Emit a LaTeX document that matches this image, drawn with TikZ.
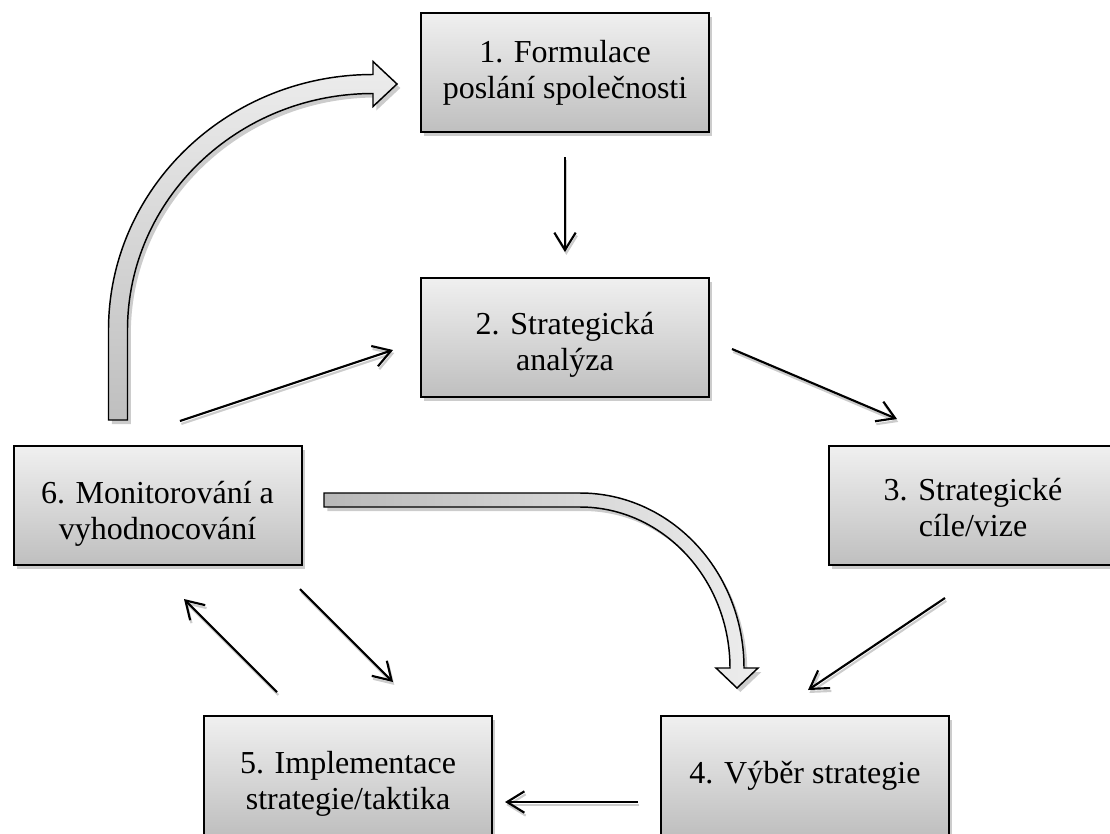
\documentclass[tikz,border=0pt]{standalone}
\usepackage{fontspec}
\setmainfont{Liberation Serif}
\usetikzlibrary{arrows.meta,shadows}
\definecolor{boxtop}{HTML}{F0F0F0}
\definecolor{boxbot}{HTML}{BFBFBF}
\definecolor{shadowgray}{HTML}{CCCCCC}
\definecolor{arrdark}{HTML}{B8B8B8}
\definecolor{arrlight}{HTML}{EDEDED}
\newcommand{\lift}[1]{\rule{0pt}{#1}}
\begin{document}
\begin{tikzpicture}[x=0.75pt,y=-0.75pt,
  box/.style={rectangle, draw=black, line width=1.5pt, top color=boxtop, bottom color=boxbot,
    minimum width=216pt, minimum height=89.25pt, inner sep=0pt, align=center,
    font=\fontsize{24}{27}\selectfont, text=black,
    drop shadow={shadow xshift=2.5pt, shadow yshift=-3pt, fill=shadowgray, opacity=1}},
  conn/.style={line width=1.6pt, -{Straight Barb[length=13pt,width=16pt]},
    preaction={draw=shadowgray, line width=1.6pt, transform canvas={xshift=1pt, yshift=-2.2pt}}},
  blockarrow/.style={draw=black, line width=1.1pt,
    preaction={fill=shadowgray, transform canvas={xshift=2.5pt, yshift=-3pt}}}
]
\useasboundingbox (0,0) rectangle (1110,833);

% boxes
\node[box] (b1) at (565,72.5) {1. Formulace\\poslání společnosti};
\node[box] (b2) at (565,337.5) {\lift{27pt}2. Strategická\\analýza};
\node[box] (b3) at (973,505.5) {\lift{19.5pt}3. Strategické\\cíle/vize};
\node[box] (b6) at (157.5,505.5) {\lift{28.5pt}6. Monitorování a\\vyhodnocování};
\node[box] (b4) at (805,775.5) {4. Výběr strategie};
\node[box] (b5) at (348,775.5) {\lift{28.5pt}5. Implementace\\strategie/taktika};

% connector end points
\coordinate (a12s) at (565,157);  \coordinate (a12e) at (565,252);
\coordinate (a62s) at (180,421);  \coordinate (a62e) at (393,350);
\coordinate (a23s) at (732,349);  \coordinate (a23e) at (897,419);
\coordinate (a34s) at (945,598);  \coordinate (a34e) at (808,690);
\coordinate (a45s) at (638,802);  \coordinate (a45e) at (505,802);
\coordinate (a56s) at (277,692);  \coordinate (a56e) at (184,599);
\coordinate (a65s) at (300,589);  \coordinate (a65e) at (393,682);

\draw[conn] (a12s) -- (a12e);
\draw[conn] (a62s) -- (a62e);
\draw[conn] (a23s) -- (a23e);
\draw[conn] (a34s) -- (a34e);
\draw[conn] (a45s) -- (a45e);
\draw[conn] (a56s) -- (a56e);
\draw[conn] (a65s) -- (a65e);

% curved block arrow from 6 up to 1
\path[blockarrow, bottom color=boxbot, top color=arrlight]
  (108.5,420) -- (108.5,330)
  .. controls (108.5,188.9) and (226.9,74.5) .. (373,74.5)
  -- (373,61.5) -- (397,84) -- (373,106.5) -- (373,93.5)
  .. controls (237.4,93.5) and (127.5,199.4) .. (127.5,330)
  -- (127.5,420) -- cycle;

% curved block arrow from 6 to 4
\path[blockarrow, left color=arrdark, right color=arrlight]
  (324,493) -- (580,493)
  .. controls (670.6,493) and (744,571.3) .. (744,668)
  -- (758,668) -- (737,688) -- (716,668) -- (730,668)
  .. controls (730,579.1) and (662.8,507) .. (580,507)
  -- (324,507) -- cycle;
\end{tikzpicture}
\end{document}
